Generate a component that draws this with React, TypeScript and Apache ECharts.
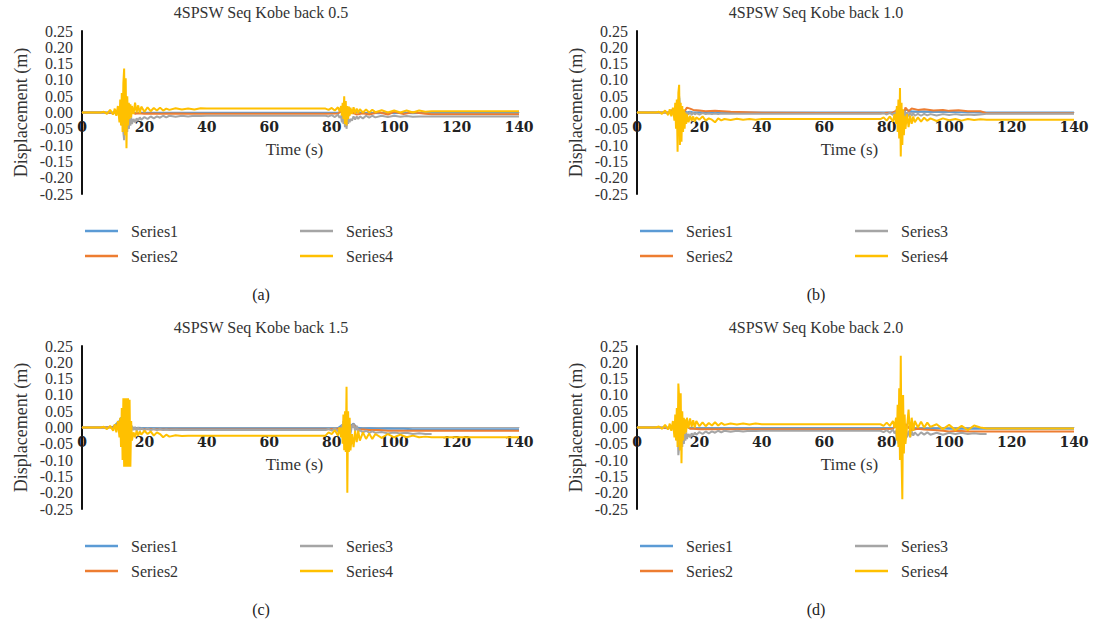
import React, { useEffect, useRef } from "react";
import * as echarts from "echarts";

// time samples (s)
const T = [0, 6, 7, 8, 9, 10, 10.5, 11, 11.5, 12,
  12.25, 12.5, 12.75, 13, 13.25, 13.5, 13.75, 14, 14.25, 14.5, 14.75, 15, 15.25, 15.5, 15.75, 16,
  16.5, 17, 17.5, 18, 18.5, 19, 20, 21, 22, 23, 24, 25, 26, 27, 28, 30, 32, 34, 36, 38, 40,
  78, 79, 80, 81, 82, 82.5, 83,
  83.25, 83.5, 83.75, 84, 84.25, 84.5, 84.75, 85, 85.25, 85.5, 85.75, 86,
  86.5, 87, 87.5, 88, 88.5, 89, 90, 91, 92, 93, 94, 96, 98, 100, 102, 104, 106, 108, 110, 112,
  140];
const TC = [0, 7, 10, 12, 12.5, 13, 13.5, 14, 15, 16, 17, 18, 20, 22, 25, 30, 35, 40,
  78, 82, 83, 84, 85, 86, 87, 88, 90, 92, 95, 98, 100, 103, 106, 110, 112, 140];

const SERIES_NAMES = ["Series1", "Series2", "Series3", "Series4"];
const SERIES_COLORS = ["#5B9BD5", "#ED7D31", "#A5A5A5", "#FFC000"];
const TITLES = ["4SPSW Seq Kobe back 0.5", "4SPSW Seq Kobe back 1.0", "4SPSW Seq Kobe back 1.5", "4SPSW Seq Kobe back 2.0"];
const CAPTIONS = ["(a)", "(b)", "(c)", "(d)"];

// ---- panel (a) ----
const A_S1 = [0, 0, 0, 0.005, -0.01, 0.015, -0.015, 0.01, -0.005, 0.002, -0.002, -0.001, -0.001, -0.001, -0.001, -0.001, -0.001, -0.001,
  -0.001, -0.001, 0.002, 0.008, -0.01, 0.004, -0.003, 0.002, -0.002, -0.001, -0.002, -0.001, -0.002, -0.001, -0.002, -0.001, -0.001, -0.001];
const A_S2 = [0, 0, -0.002, 0.01, -0.02, 0.03, -0.03, 0.02, -0.01, 0.004, -0.004, -0.002, -0.004, -0.003, -0.004, -0.003, -0.004, -0.004,
  -0.004, -0.003, 0.004, 0.012, -0.02, 0.008, -0.002, -0.006, -0.002, -0.006, 0.001, -0.006, 0.002, -0.005, 0.001, -0.004, -0.005, -0.005];
const A_S3 = [0, 0, 0, -0.002, 0.002, -0.004, 0.004, -0.006, 0.008, -0.015,
  -0.02, 0.01, -0.04, 0.02, -0.06, -0.085, 0.02, -0.07, -0.02, -0.06, -0.01, -0.05, -0.02, -0.04, -0.015, -0.035,
  -0.02, -0.03, -0.018, -0.025, -0.015, -0.022, -0.014, -0.02, -0.012, -0.018, -0.012, -0.016, -0.01, -0.015, -0.01, -0.013, -0.01, -0.012, -0.01, -0.011, -0.01,
  -0.01, -0.012, -0.008, -0.014, -0.006, -0.016, -0.01,
  -0.03, 0.0, -0.035, -0.01, -0.045, -0.015, -0.05, -0.02, -0.035, -0.02, -0.03, -0.02,
  -0.025, -0.012, -0.022, -0.012, -0.02, -0.012, -0.018, -0.01, -0.016, -0.01, -0.015, -0.01, -0.014, -0.01, -0.013, -0.011, -0.013, -0.012, -0.012, -0.012,
  -0.012];
const A_S4 = [0, 0, 0.002, -0.004, 0.008, -0.006, 0.012, -0.01, 0.02, -0.03,
  0.04, -0.04, 0.06, -0.06, 0.09, 0.135, -0.07, 0.105, -0.11, 0.05, -0.04, 0.03, -0.02, 0.025, -0.015, 0.02,
  -0.005, 0.03, 0.0, 0.022, -0.002, 0.018, 0.002, 0.016, 0.004, 0.014, 0.006, 0.015, 0.006, 0.012, 0.008, 0.013, 0.009, 0.012, 0.009, 0.013, 0.012,
  0.012, 0.008, 0.014, 0.006, 0.016, 0.004, 0.02,
  -0.01, 0.03, -0.02, 0.05, -0.035, 0.035, -0.04, 0.02, -0.02, 0.018, -0.01, 0.015,
  -0.005, 0.016, -0.003, 0.012, -0.002, 0.01, 0.0, 0.009, 0.0, 0.008, 0.001, 0.007, 0.0, 0.006, 0.0, 0.006, 0.0, 0.006, 0.002, 0.004,
  0.004];

// ---- panel (b) ----
const B_S1 = [0, 0, 0, 0.01, -0.01, 0.02, 0.045, -0.02, 0.005, 0.0, 0.002, 0.0, 0.001, 0.0, 0.0, 0.0, 0.0, 0.0,
  0.0, 0.0, 0.003, 0.01, -0.02, 0.01, 0.005, 0.004, 0.003, 0.003, 0.002, 0.002, 0.002, 0.001, 0.001, 0.0, 0.0, 0.0];
const B_S2 = [0, 0, 0, 0.01, -0.02, 0.03, -0.03, 0.005, 0.0, 0.015, 0.012, 0.008, 0.006, 0.004, 0.005, 0.002, 0.001, -0.001,
  -0.002, 0.0, 0.005, 0.02, -0.02, 0.015, 0.004, 0.012, 0.008, 0.01, 0.006, 0.008, 0.005, 0.007, 0.004, 0.004, -0.002, -0.002];
const B_S3 = [0, 0, 0, -0.002, 0.002, -0.004, 0.004, -0.006, 0.008, -0.01,
  0.02, -0.03, 0.03, -0.04, 0.03, 0.05, -0.04, 0.02, -0.03, 0.01, -0.02, 0.005, -0.015, 0.0, -0.01, 0.0,
  -0.006, 0.002, -0.008, 0.0, -0.006, -0.002, -0.006, -0.002, -0.005, -0.003, -0.005, -0.003, -0.005, -0.003, -0.004, -0.004, -0.004, -0.004, -0.004, -0.004, -0.004,
  -0.004, -0.002, -0.006, -0.001, -0.007, 0.0, -0.01,
  0.01, -0.03, 0.02, -0.04, 0.03, -0.05, 0.01, -0.03, 0.0, -0.02, 0.005, -0.015,
  0.0, -0.012, 0.0, -0.01, -0.002, -0.01, -0.004, -0.01, -0.004, -0.009, -0.005, -0.009, -0.005, -0.008, -0.005, -0.008, -0.006, -0.008, -0.006, -0.004,
  -0.004];
const B_S4 = [0, 0, 0.002, -0.004, 0.006, -0.008, 0.01, -0.012, 0.015, -0.025,
  0.03, -0.05, 0.04, -0.12, 0.06, 0.085, -0.1, 0.03, -0.09, 0.02, -0.06, 0.01, -0.05, 0.0, -0.035, -0.005,
  -0.03, -0.01, -0.025, -0.012, -0.028, -0.015, -0.022, -0.012, -0.025, -0.018, -0.022, -0.03, -0.018, -0.024, -0.02, -0.023, -0.019, -0.022, -0.02, -0.022, -0.02,
  -0.02, -0.015, -0.025, -0.012, -0.028, -0.005, -0.035,
  0.02, -0.06, 0.04, -0.08, 0.075, -0.135, 0.03, -0.1, 0.01, -0.07, -0.01, -0.05,
  -0.005, -0.045, -0.01, -0.035, -0.012, -0.03, -0.015, -0.028, -0.016, -0.025, -0.018, -0.026, -0.018, -0.024, -0.02, -0.025, -0.02, -0.023, -0.021, -0.022,
  -0.022];

// ---- panel (c) ----
const C_S1 = [0, 0, 0.002, 0.02, 0.03, -0.01, 0.02, -0.02, 0.01, 0.0, -0.002, -0.001, -0.002, -0.002, -0.003, -0.003, -0.003, -0.003,
  -0.003, -0.002, 0.005, 0.01, -0.01, 0.005, 0.012, 0.0, -0.003, -0.002, -0.004, -0.003, -0.004, -0.004, -0.005, -0.005, -0.005, -0.005];
const C_S2 = [0, 0, 0, 0.01, -0.02, 0.02, -0.02, 0.01, -0.005, -0.003, -0.004, -0.004, -0.005, -0.005, -0.006, -0.006, -0.006, -0.006,
  -0.006, -0.004, 0.0, 0.01, -0.02, 0.0, 0.01, -0.005, -0.006, -0.008, -0.008, -0.01, -0.01, -0.01, -0.01, -0.01, -0.01, -0.01];
const C_S3 = [0, 0, 0, -0.002, 0.002, -0.004, 0.004, -0.006, 0.008, -0.01,
  0.015, 0.03, -0.02, 0.02, -0.03, 0.02, -0.03, 0.02, -0.03, 0.015, -0.02, 0.01, -0.015, 0.008, -0.012, 0.005,
  -0.008, 0.002, -0.01, 0.0, -0.008, -0.002, -0.008, -0.003, -0.008, -0.004, -0.008, -0.005, -0.008, -0.006, -0.008, -0.007, -0.008, -0.008, -0.008, -0.008, -0.008,
  -0.008, -0.004, -0.01, -0.002, -0.012, 0.0, -0.015,
  0.01, -0.03, 0.02, -0.04, 0.03, -0.04, 0.02, -0.05, 0.01, -0.03, 0.005, -0.02,
  0.005, 0.01, -0.01, 0.005, -0.012, -0.008, -0.015, -0.01, -0.016, -0.012, -0.016, -0.014, -0.018, -0.015, -0.018, -0.016, -0.02, -0.018, -0.02, -0.02,
  null];
const C_S4 = [0, 0, 0.002, -0.005, 0.005, -0.01, 0.01, -0.015, 0.02, -0.03,
  0.03, -0.06, 0.06, -0.1, 0.09, -0.12, 0.09, -0.12, 0.09, -0.12, 0.09, -0.12, 0.085, -0.12, 0.02, -0.04,
  -0.015, -0.03, -0.01, -0.025, -0.012, -0.022, -0.01, -0.02, -0.012, -0.025, -0.015, -0.02, -0.03, -0.022, -0.028, -0.024, -0.026, -0.025, -0.025, -0.025, -0.025,
  -0.025, -0.015, -0.02, -0.008, -0.025, 0.0, -0.03,
  0.0, -0.05, 0.04, -0.07, 0.05, -0.075, 0.125, -0.2, 0.05, -0.075, 0.03, -0.07,
  -0.02, -0.06, -0.01, -0.045, -0.01, -0.04, -0.015, -0.035, -0.018, -0.035, -0.02, -0.032, -0.02, -0.03, -0.022, -0.03, -0.025, -0.03, -0.028, -0.03,
  -0.03];

// ---- panel (d) ----
const D_S1 = [0, 0, 0, 0.005, -0.01, 0.015, -0.015, 0.01, -0.005, 0.002, -0.002, -0.002, -0.002, -0.002, -0.002, -0.002, -0.002, -0.002,
  -0.002, -0.002, 0.005, 0.01, -0.015, 0.01, 0.0, -0.002, -0.003, -0.003, -0.003, -0.003, -0.004, -0.004, -0.004, -0.004, -0.004, -0.004];
const D_S2 = [0, 0, -0.002, 0.01, -0.02, 0.03, -0.03, 0.02, -0.01, 0.004, -0.004, -0.004, -0.005, -0.005, -0.005, -0.005, -0.005, -0.005,
  -0.005, -0.004, 0.01, 0.03, -0.04, 0.01, 0.0, -0.008, -0.004, -0.006, -0.008, -0.01, -0.012, -0.01, -0.012, -0.012, -0.012, -0.012];
const D_S3 = [0, 0, 0, -0.002, 0.002, -0.004, 0.004, -0.006, 0.008, -0.015,
  -0.02, 0.01, -0.04, 0.02, -0.085, -0.06, 0.02, -0.07, -0.02, -0.06, -0.01, -0.05, -0.02, -0.04, -0.015, -0.035,
  -0.02, -0.03, -0.018, -0.025, -0.016, -0.022, -0.014, -0.02, -0.012, -0.018, -0.012, -0.016, -0.01, -0.015, -0.01, -0.013, -0.01, -0.012, -0.01, -0.011, -0.01,
  -0.01, -0.014, -0.008, -0.016, -0.006, -0.018, -0.01,
  -0.04, 0.02, -0.05, 0.0, -0.07, 0.02, -0.08, -0.03, -0.06, -0.02, -0.05, -0.02,
  -0.03, -0.01, -0.03, -0.012, -0.025, -0.015, -0.025, -0.015, -0.022, -0.015, -0.022, -0.016, -0.022, -0.016, -0.02, -0.016, -0.02, -0.018, -0.02, -0.02,
  null];
const D_S4 = [0, 0, 0.003, -0.004, 0.008, -0.006, 0.012, -0.01, 0.02, -0.03,
  0.04, -0.04, 0.06, -0.06, 0.135, 0.09, -0.07, 0.105, -0.11, 0.05, -0.04, 0.03, -0.02, 0.025, -0.015, 0.03,
  -0.002, 0.028, 0.002, 0.022, 0.0, 0.02, 0.004, 0.016, 0.004, 0.014, 0.006, 0.016, 0.006, 0.014, 0.008, 0.012, 0.009, 0.012, 0.009, 0.012, 0.01,
  0.01, 0.005, 0.015, 0.005, 0.02, 0.0, 0.03,
  -0.04, 0.07, -0.06, 0.12, -0.1, 0.22, -0.09, -0.22, 0.1, -0.08, 0.04, -0.05,
  0.0, 0.055, -0.03, 0.03, -0.01, 0.02, 0.0, 0.018, 0.0, 0.015, 0.002, 0.01, -0.005, 0.008, -0.008, 0.005, -0.008, 0.006, 0.0, -0.003,
  -0.003];

const PANELS = [
  [A_S1, A_S2, A_S3, A_S4],
  [B_S1, B_S2, B_S3, B_S4],
  [C_S1, C_S2, C_S3, C_S4],
  [D_S1, D_S2, D_S3, D_S4],
];

const SERIF = "'Liberation Serif', 'Times New Roman', serif";
const GRID_H = 163;
const Y_MIN = -0.25;
const Y_MAX = 0.25;

function pairs(ts: number[], vs: (number | null)[]) {
  const out: number[][] = [];
  for (let i = 0; i < ts.length && i < vs.length; i++) {
    if (vs[i] !== null && vs[i] !== undefined) out.push([ts[i], vs[i] as number]);
  }
  return out;
}

const fmt = (v: number) => (Math.abs(v) < 1e-9 ? "0.00" : v.toFixed(2));

function buildOption() {
  const grid: any[] = [];
  const xAxis: any[] = [];
  const yAxis: any[] = [];
  const yAxisEnds: any[] = [];
  const series: any[] = [];
  const legend: any[] = [];
  const graphic: any[] = [];
  const labelStyle = { fontFamily: SERIF, fontSize: 16, lineHeight: 14, color: "#333", margin: 9 };
  PANELS.forEach((panel, p) => {
    const ox = (p % 2) * 555;
    const oy = Math.floor(p / 2) * 315;
    grid.push({ left: 82 + ox, top: 31 + oy, width: 437, height: GRID_H });
    xAxis.push({
      type: "value", gridIndex: p, min: 0, max: 140, interval: 20,
      position: "bottom", offset: -GRID_H / 2,
      name: "Time (s)", nameLocation: "middle", nameGap: 28,
      nameTextStyle: { fontFamily: SERIF, fontSize: 17, color: "#333", padding: [0, 12, 0, 0] },
      axisLine: { show: true, onZero: false, lineStyle: { color: "#aaa", width: 1 } },
      axisTick: { show: false },
      splitLine: { show: false },
      axisLabel: { fontFamily: "'DejaVu Serif', serif", fontWeight: "bold", fontSize: 14, color: "#222", margin: 7 },
    });
    // main axis: inner tick labels (-0.20 … 0.20)
    yAxis.push({
      type: "value", gridIndex: p, min: Y_MIN, max: Y_MAX, interval: 0.05,
      name: "Displacement (m)", nameLocation: "middle", nameGap: 52,
      nameTextStyle: { fontFamily: SERIF, fontSize: 18, color: "#333" },
      axisLine: { show: true, onZero: false, lineStyle: { color: "#111", width: 2 } },
      axisTick: { show: false },
      splitLine: { show: false },
      axisLabel: { ...labelStyle, showMinLabel: false, showMaxLabel: false, formatter: fmt },
    });
    // companion axis in same grid: end labels (-0.25, 0.25)
    yAxisEnds.push({
      type: "value", gridIndex: p, min: Y_MIN, max: Y_MAX, interval: 0.5,
      position: "left", offset: 0,
      axisLine: { show: false, onZero: false },
      axisTick: { show: false },
      splitLine: { show: false },
      axisLabel: { ...labelStyle, showMinLabel: true, showMaxLabel: true, formatter: fmt },
    });
    panel.forEach((vals, s) => {
      const ts = s < 2 ? TC : T;
      series.push({
        type: "line", name: SERIES_NAMES[s], xAxisIndex: p, yAxisIndex: p,
        data: pairs(ts, vals), showSymbol: false, symbol: "none",
        color: SERIES_COLORS[s],
        lineStyle: { color: SERIES_COLORS[s], width: 2 },
      });
    });
    const legendCommon = {
      orient: "vertical", icon: "rect", itemWidth: 33, itemHeight: 2.5, itemGap: 9,
      top: 218 + oy, selectedMode: false,
      textStyle: { fontFamily: SERIF, fontSize: 16, color: "#333", padding: [0, 0, 0, 8] },
    };
    legend.push({ ...legendCommon, left: 80 + ox, data: ["Series1", "Series2"] });
    legend.push({ ...legendCommon, left: 295 + ox, data: ["Series3", "Series4"] });
    graphic.push({
      type: "text", x: 261 + ox, y: 12 + oy,
      style: { text: TITLES[p], fontFamily: SERIF, fontSize: 16, fill: "#333", textAlign: "center", textVerticalAlign: "middle" },
    });
    graphic.push({
      type: "text", x: 261 + ox, y: 294 + oy,
      style: { text: CAPTIONS[p], fontFamily: SERIF, fontSize: 16, fill: "#222", textAlign: "center", textVerticalAlign: "middle" },
    });
  });
  return {
    animation: false, backgroundColor: "#fff", grid, xAxis,
    yAxis: [...yAxis, ...yAxisEnds], series, legend, graphic,
  };
}

export default function App() {
  const ref = useRef<HTMLDivElement>(null);
  useEffect(() => {
    if (!ref.current) return;
    const chart = echarts.init(ref.current, undefined, { renderer: "svg" });
    chart.setOption(buildOption() as any);
    return () => chart.dispose();
  }, []);
  return <div ref={ref} style={{ position: "fixed", left: 0, top: 0, width: 1094, height: 631 }} />;
}
